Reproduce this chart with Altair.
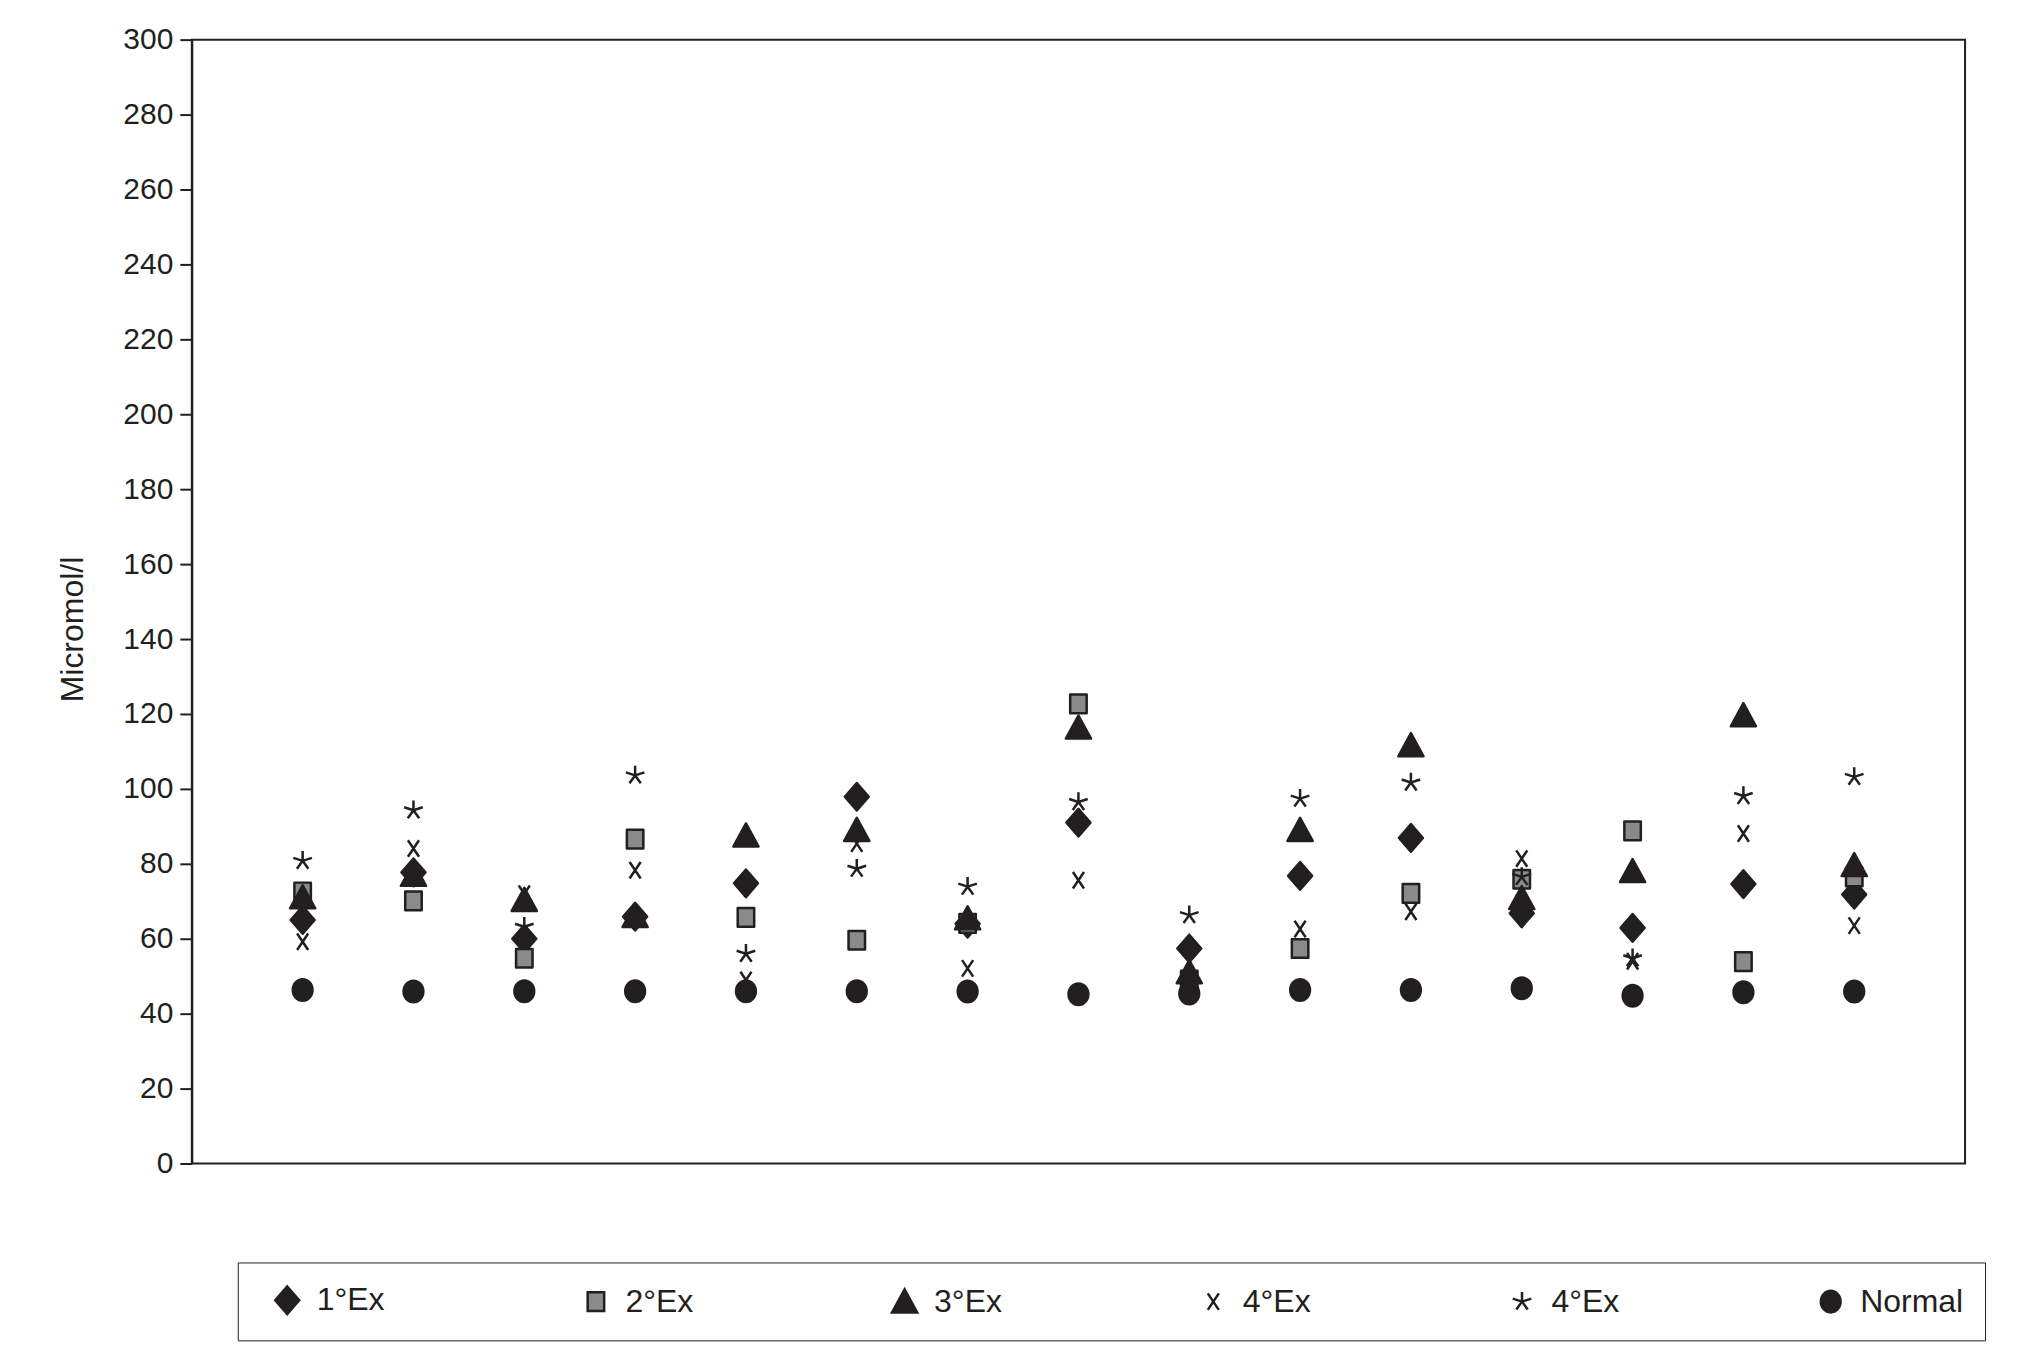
import altair as alt
import pandas as pd

# ---- data ----
groups = list(range(1, 16))
series_keys = ["s1", "s2", "s3", "s4", "s5", "s6"]
series_names = ["1°Ex", "2°Ex", "3°Ex", "4°Ex", "4°Ex", "Normal"]

ex1 = [65, 77.7, 60, 65.9, 74.8, 97.9, 64, 91, 57.4, 76.8, 86.9, 66.8, 62.9, 74.6, 71.8]
ex2 = [72.5, 70.1, 54.8, 86.6, 65.7, 59.6, 64.1, 122.7, 49, 57.4, 72.1, 75.9, 88.8, 53.9, 76.5]
ex3 = [71, 77, 70.3, 66, 87.5, 89, 65.4, 116.3, 51, 89, 111.6, 70.8, 78, 119.6, 79.6]
ex4x = [59.2, 84.1, 72, 78.3, 49, 85.4, 52.1, 75.6, 45.5, 62.6, 67.2, 81.4, 54, 88.1, 63.5]
ex4s = [80.8, 94.3, 63.2, 103.6, 56, 78.7, 73.9, 96.5, 66.3, 97.4, 101.7, 76.5, 54.8, 98.1, 103.2]
normal = [46.3, 45.9, 46, 46, 46, 46, 45.9, 45.2, 45.4, 46.3, 46.3, 46.8, 44.8, 45.7, 45.9]

yticks = [0, 20, 40, 60, 80, 100, 120, 140, 160, 180, 200, 220, 240, 260, 280, 300]

# ---- styles ----
INK = "#231f20"
GRAY = "#8a8a8a"
FONT = "Liberation Sans Narrow, Arial Narrow, Liberation Sans, Arial, sans-serif"

shape_paths = [
    "M0,-0.92L0.8,0L0,0.92L-0.8,0Z",                       # diamond
    "M-0.55,-0.62L0.55,-0.62L0.55,0.62L-0.55,0.62Z",       # square
    "M0,-0.82L0.84,0.72L-0.84,0.72Z",                      # triangle
    "M-0.37,-0.55L0.37,0.55M0.37,-0.55L-0.37,0.55",        # x
    "M0,0L0,-0.65M0,0L0.62,-0.2M0,0L-0.62,-0.2M0,0L0.38,0.53M0,0L-0.38,0.53",  # asterisk
    "M-0.66,0A0.66,0.72,0,1,0,0.66,0A0.66,0.72,0,1,0,-0.66,0Z",  # circle
]
fills = [INK, GRAY, INK, "transparent", "transparent", INK]
strokes = [INK, INK, INK, INK, INK, INK]

all_series = [ex1, ex2, ex3, ex4x, ex4s, normal]
rows = []
for key, vals in zip(series_keys, all_series):
    for g, v in zip(groups, vals):
        rows.append({"group": g, "value": v, "series": key})
df = pd.DataFrame(rows)

label_expr = "''"
for k, n in reversed(list(zip(series_keys, series_names))):
    label_expr = f"datum.label == '{k}' ? '{n}' : ({label_expr})"

legend = alt.Legend(
    title=None,
    orient="none",
    legendX=46,
    legendY=1224,
    direction="horizontal",
    columns=6,
    gridAlign="all",
    columnPadding=147,
    padding=21,
    symbolOffset=12,
    strokeColor=INK,
    labelFont=FONT,
    labelFontSize=32,
    labelColor=INK,
    labelOffset=13,
    labelExpr=label_expr,
    symbolSize=900,
    symbolStrokeWidth=2.5,
)

points = alt.Chart(df).mark_point(
    opacity=1, size=900, strokeWidth=2.5, strokeJoin="round"
).encode(
    x=alt.X("group:Q", scale=alt.Scale(domain=[0, 16], nice=False, zero=False), axis=None),
    y=alt.Y(
        "value:Q",
        scale=alt.Scale(domain=[0, 300], nice=False),
        axis=alt.Axis(
            values=yticks,
            title="Micromol/l",
            titleX=-119,
            titleY=590,
            titleAngle=270,
            titleAlign="center",
            titleBaseline="middle",
            titleFont=FONT,
            titleFontSize=32,
            titleFontWeight="normal",
            titleColor=INK,
            labelFont=FONT,
            labelFontSize=30,
            labelColor=INK,
            labelPadding=7,
            tickSize=12,
            tickWidth=2,
            tickColor=INK,
            domainColor=INK,
            domainWidth=2,
            grid=False,
        ),
    ),
    shape=alt.Shape("series:N", scale=alt.Scale(domain=series_keys, range=shape_paths), legend=legend),
    fill=alt.Fill("series:N", scale=alt.Scale(domain=series_keys, range=fills), legend=legend),
    stroke=alt.Stroke("series:N", scale=alt.Scale(domain=series_keys, range=strokes), legend=legend),
)

chart = points.properties(
    width=1775,
    height=1125,
    autosize=alt.AutoSizeParams(type="none"),
    padding={"left": 184, "top": 31, "right": 60, "bottom": 190},
    background="white",
).configure_view(stroke=INK, strokeWidth=2)

chart.save("out.html", embed_options={"renderer": "svg", "actions": False})
